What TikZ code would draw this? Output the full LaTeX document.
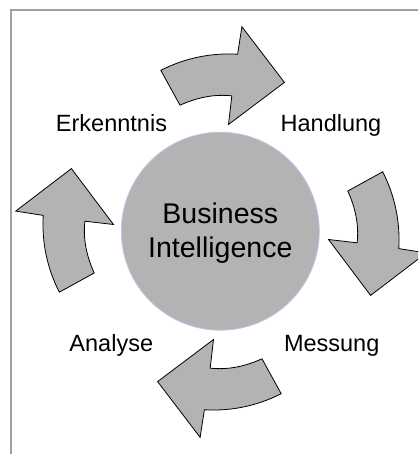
\documentclass[tikz,border=0pt]{standalone}
\usepackage{fontspec}
\setmainfont{Liberation Sans}
\definecolor{arrowgray}{HTML}{B3B3B3}
\definecolor{circgray}{HTML}{B3B3B3}
\definecolor{circedge}{HTML}{C4C4EC}
\definecolor{framegray}{HTML}{A0A0A0}
\tikzset{
  arrowshape/.style={fill=arrowgray, draw=black, line width=0.8pt, line join=miter},
  lbl/.style={font=\fontsize{23.5}{27}\selectfont, anchor=base, inner sep=0pt},
  bitxt/.style={font=\fontsize{28.5}{34}\selectfont, anchor=base, inner sep=0pt},
  cyclearrow/.pic={
    \draw[arrowshape] (-60.2,-161.7) .. controls (-36.07,-173.9) and (-10.47,-179.27) .. (16.6,-177.8)
      -- (20.9,-205.3) -- (63.4,-149.6) -- (7.5,-107.5) -- (10.8,-136.1)
      .. controls (-5.73,-138.03) and (-23,-134.93) .. (-41,-126.8) -- cycle;
  }
}
\begin{document}
\begin{tikzpicture}[x=1pt,y=-1pt]
\useasboundingbox (0,0) rectangle (418,454);
\clip (0,0) rectangle (418,454);
\draw[framegray, line width=2pt] (11,456) -- (11,10) -- (420,10);

\node[circle, minimum size=198pt, inner sep=0pt, fill=circgray, draw=circedge, line width=0.8pt] (bi) at (220.3,231.2) {};
\node[bitxt] (bi1) at (220.3,223.3) {Business};
\node[bitxt] (bi2) at (220.3,257.3) {Intelligence};

\coordinate (c) at (221,232);
\pic at (c) {cyclearrow};
\pic[rotate=-90] at (c) {cyclearrow};
\pic[rotate=180] at (c) {cyclearrow};
\pic[rotate=90] at (c) {cyclearrow};

\node[lbl] (erk) at (111.5,131.7) {Erkenntnis};
\node[lbl] (han) at (331,131.7) {Handlung};
\node[lbl] (ana) at (111.3,351.7) {Analyse};
\node[lbl] (mes) at (331.7,351.7) {Messung};
\end{tikzpicture}
\end{document}
